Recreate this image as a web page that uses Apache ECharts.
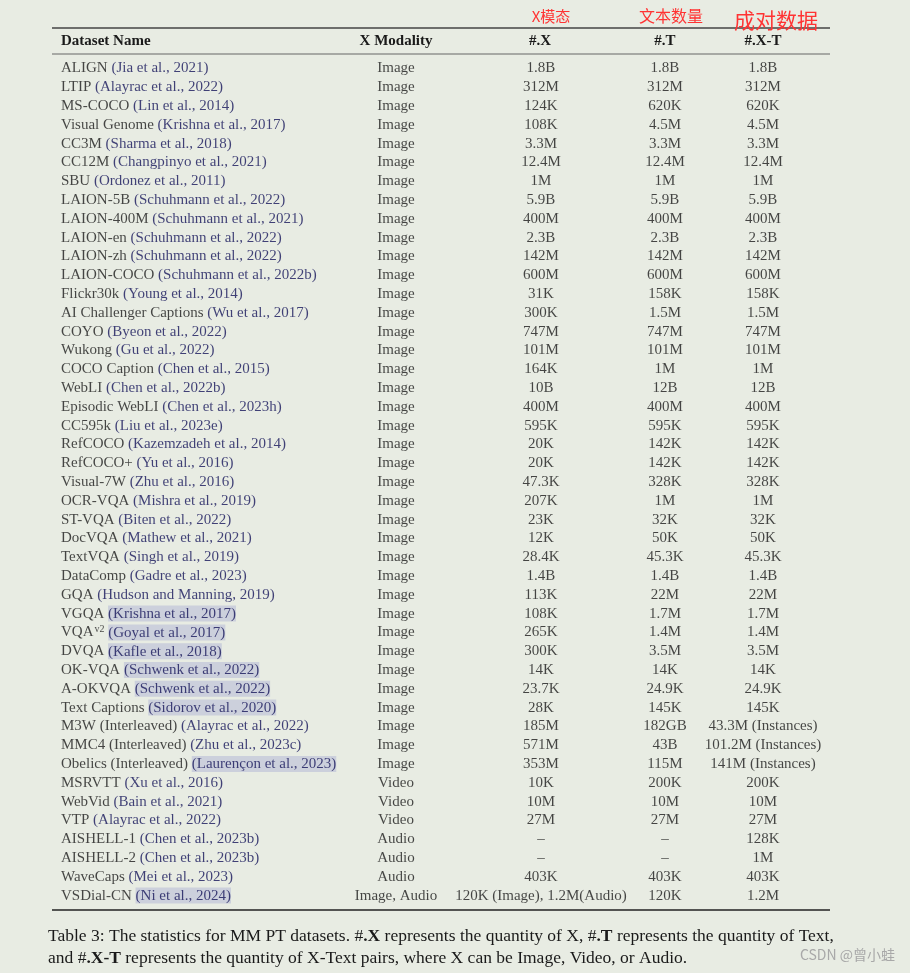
<!DOCTYPE html>
<html>
<head>
<meta charset="utf-8">
<script src="https://cdn.jsdelivr.net/npm/echarts@6/dist/echarts.min.js"></script>
<style>
html,body{margin:0;padding:0;background:#e8ece3;}
#c{width:910px;height:973px;}
</style>
</head>
<body>
<div id="c"></div>
<script>
var names = ["ALIGN","LTIP","MS-COCO","Visual Genome","CC3M","CC12M","SBU","LAION-5B","LAION-400M","LAION-en","LAION-zh","LAION-COCO","Flickr30k","AI Challenger Captions","COYO","Wukong","COCO Caption","WebLI","Episodic WebLI","CC595k","RefCOCO","RefCOCO+","Visual-7W","OCR-VQA","ST-VQA","DocVQA","TextVQA","DataComp","GQA","VGQA","VQA","DVQA","OK-VQA","A-OKVQA","Text Captions","M3W (Interleaved)","MMC4 (Interleaved)","Obelics (Interleaved)","MSRVTT","WebVid","VTP","AISHELL-1","AISHELL-2","WaveCaps","VSDial-CN"];
var cites = ["(Jia et al., 2021)","(Alayrac et al., 2022)","(Lin et al., 2014)","(Krishna et al., 2017)","(Sharma et al., 2018)","(Changpinyo et al., 2021)","(Ordonez et al., 2011)","(Schuhmann et al., 2022)","(Schuhmann et al., 2021)","(Schuhmann et al., 2022)","(Schuhmann et al., 2022)","(Schuhmann et al., 2022b)","(Young et al., 2014)","(Wu et al., 2017)","(Byeon et al., 2022)","(Gu et al., 2022)","(Chen et al., 2015)","(Chen et al., 2022b)","(Chen et al., 2023h)","(Liu et al., 2023e)","(Kazemzadeh et al., 2014)","(Yu et al., 2016)","(Zhu et al., 2016)","(Mishra et al., 2019)","(Biten et al., 2022)","(Mathew et al., 2021)","(Singh et al., 2019)","(Gadre et al., 2023)","(Hudson and Manning, 2019)","(Krishna et al., 2017)","(Goyal et al., 2017)","(Kafle et al., 2018)","(Schwenk et al., 2022)","(Schwenk et al., 2022)","(Sidorov et al., 2020)","(Alayrac et al., 2022)","(Zhu et al., 2023c)","(Laurençon et al., 2023)","(Xu et al., 2016)","(Bain et al., 2021)","(Alayrac et al., 2022)","(Chen et al., 2023b)","(Chen et al., 2023b)","(Mei et al., 2023)","(Ni et al., 2024)"];
var highlighted = ["VGQA","VQA","DVQA","OK-VQA","A-OKVQA","Text Captions","Obelics (Interleaved)","VSDial-CN"];
var superscripts = {"VQA":"v2"};
var modality = ["Image","Image","Image","Image","Image","Image","Image","Image","Image","Image","Image","Image","Image","Image","Image","Image","Image","Image","Image","Image","Image","Image","Image","Image","Image","Image","Image","Image","Image","Image","Image","Image","Image","Image","Image","Image","Image","Image","Video","Video","Video","Audio","Audio","Audio","Image, Audio"];
var numX = ["1.8B","312M","124K","108K","3.3M","12.4M","1M","5.9B","400M","2.3B","142M","600M","31K","300K","747M","101M","164K","10B","400M","595K","20K","20K","47.3K","207K","23K","12K","28.4K","1.4B","113K","108K","265K","300K","14K","23.7K","28K","185M","571M","353M","10K","10M","27M","–","–","403K","120K (Image), 1.2M(Audio)"];
var numT = ["1.8B","312M","620K","4.5M","3.3M","12.4M","1M","5.9B","400M","2.3B","142M","600M","158K","1.5M","747M","101M","1M","12B","400M","595K","142K","142K","328K","1M","32K","50K","45.3K","1.4B","22M","1.7M","1.4M","3.5M","14K","24.9K","145K","182GB","43B","115M","200K","10M","27M","–","–","403K","120K"];
var numXT = ["1.8B","312M","620K","4.5M","3.3M","12.4M","1M","5.9B","400M","2.3B","142M","600M","158K","1.5M","747M","101M","1M","12B","400M","595K","142K","142K","328K","1M","32K","50K","45.3K","1.4B","22M","1.7M","1.4M","3.5M","14K","24.9K","145K","43.3M (Instances)","101.2M (Instances)","141M (Instances)","200K","10M","27M","128K","1M","403K","1.2M"];
var headers = ["Dataset Name","X Modality","#.X","#.T","#.X-T"];
var annotations = ["X模态","文本数量","成对数据"];
var captionLines = ["Table 3: The statistics for MM PT datasets. #{b|.X} represents the quantity of X, #{b|.T} represents the quantity of Text,","and #{b|.X-T} represents the quantity of X-Text pairs, where X can be Image, Video, or Audio."];
var watermark = "CSDN @曾小蛙";

// layout (pixel anchors for columns)
var colX = [61, 396, 541, 665, 763];
var FONT = "'Liberation Serif', 'Times New Roman', serif";
var FS = 15;
var INK = '#1a1a1a';
var CITE = '#15155a';
var HL = '#c4c9da';

var rows = names.map(function(n, i){ return String(i); });

function nameLabel(i){
  var n = names[i];
  var sup = superscripts[n] ? '{s|' + superscripts[n] + '}' : '';
  var c = highlighted.indexOf(n) >= 0 ? '{h|' + cites[i] + '}' : '{c|' + cites[i] + '}';
  return '{n|' + n + '}' + sup + '{n| }' + c;
}

var baseLabel = {show:true, fontFamily:FONT, fontSize:FS, color:INK};
function colSeries(arr, ci, isName){
  return {
    type:'scatter', symbolSize:0, silent:true,
    data: arr.map(function(v, i){ return {value:[colX[ci], rows[i]], txt: isName ? nameLabel(i) : v}; }),
    label: Object.assign({}, baseLabel, {
      position: isName ? 'right' : 'inside',
      distance: 0,
      align: isName ? 'left' : 'center',
      verticalAlign: 'middle',
      formatter: function(p){ return p.data.txt; },
      rich: isName ? {
        n:{fontFamily:FONT, fontSize:FS, color:INK},
        c:{fontFamily:FONT, fontSize:FS, color:CITE},
        h:{fontFamily:FONT, fontSize:FS, color:CITE, backgroundColor:HL, padding:[1,0,0,0]},
        s:{fontFamily:FONT, fontSize:10, color:INK, padding:[0,0,7,1]}
      } : undefined
    })
  };
}

var chart = echarts.init(document.getElementById('c'), null, {renderer:'canvas'});
var L0 = 52, L1 = 830;
var option = {
  backgroundColor:'#e8ece3',
  animation:false,
  grid:{left:0, right:0, top:59, height:846},
  xAxis:{type:'value', min:0, max:910, show:false},
  yAxis:{type:'category', data:rows, inverse:true, show:false},
  series:[
    colSeries(names, 0, true),
    colSeries(modality, 1, false),
    colSeries(numX, 2, false),
    colSeries(numT, 3, false),
    colSeries(numXT, 4, false)
  ],
  graphic:[
    {type:'line', shape:{x1:L0, y1:28, x2:L1, y2:28}, style:{stroke:'#444', lineWidth:1.4}},
    {type:'line', shape:{x1:L0, y1:54, x2:L1, y2:54}, style:{stroke:'#666', lineWidth:1}},
    {type:'line', shape:{x1:L0, y1:910, x2:L1, y2:910}, style:{stroke:'#222', lineWidth:1.6}},
    {type:'text', x:colX[0], y:41, style:{text:headers[0], font:'bold '+FS+'px '+FONT, fill:INK, textAlign:'left', textVerticalAlign:'middle'}},
    {type:'text', x:colX[1], y:41, style:{text:headers[1], font:'bold '+FS+'px '+FONT, fill:INK, textAlign:'center', textVerticalAlign:'middle'}},
    {type:'text', x:colX[2]-1, y:41, style:{text:headers[2], font:'bold '+FS+'px '+FONT, fill:INK, textAlign:'center', textVerticalAlign:'middle'}},
    {type:'text', x:colX[3], y:41, style:{text:headers[3], font:'bold '+FS+'px '+FONT, fill:INK, textAlign:'center', textVerticalAlign:'middle'}},
    {type:'text', x:colX[4], y:41, style:{text:headers[4], font:'bold '+FS+'px '+FONT, fill:INK, textAlign:'center', textVerticalAlign:'middle'}},
    {type:'text', x:551, y:16, style:{text:annotations[0], font:'15px "Noto Sans CJK SC", sans-serif', fill:'#f33', textAlign:'center', textVerticalAlign:'middle'}},
    {type:'text', x:671, y:16, style:{text:annotations[1], font:'16px "Noto Sans CJK SC", sans-serif', fill:'#f33', textAlign:'center', textVerticalAlign:'middle'}},
    {type:'text', x:776, y:20, style:{text:annotations[2], font:'21px "Noto Sans CJK SC", sans-serif', fill:'#f33', textAlign:'center', textVerticalAlign:'middle'}},
    {type:'text', x:48, y:936, style:{text:captionLines[0], font:'17.5px '+FONT, fill:INK, textVerticalAlign:'middle', rich:{b:{font:'bold 17.5px '+FONT, fill:INK}}}},
    {type:'text', x:48, y:958, style:{text:captionLines[1], font:'17.5px '+FONT, fill:INK, textVerticalAlign:'middle', rich:{b:{font:'bold 17.5px '+FONT, fill:INK}}}},
    {type:'text', x:895, y:955, style:{text:watermark, font:'14px "Noto Sans CJK SC", sans-serif', fill:'#a8a8a8', textAlign:'right', textVerticalAlign:'middle'}}
  ]
};
chart.setOption(option);
</script>
</body>
</html>
